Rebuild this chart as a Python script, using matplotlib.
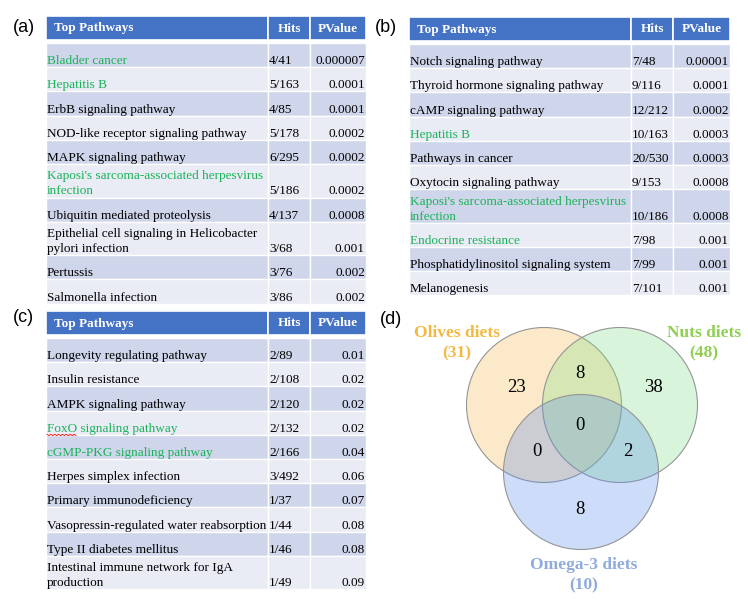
import numpy as np
import matplotlib
matplotlib.use('Agg')
import matplotlib.pyplot as plt
from matplotlib.patches import Rectangle, Circle

# ---- data ----
a_names = ['Bladder cancer', 'Hepatitis B', 'ErbB signaling pathway',
           'NOD-like receptor signaling pathway', 'MAPK signaling pathway',
           "Kaposi's sarcoma-associated herpesvirus\ninfection",
           'Ubiquitin mediated proteolysis',
           'Epithelial cell signaling in Helicobacter\npylori infection',
           'Pertussis', 'Salmonella infection']
a_hits = ['4/41', '5/163', '4/85', '5/178', '6/295', '5/186', '4/137', '3/68', '3/76', '3/86']
a_pval = ['0.000007', '0.0001', '0.0001', '0.0002', '0.0002', '0.0002', '0.0008', '0.001', '0.002', '0.002']
a_green = [0, 1, 5]

b_names = ['Notch signaling pathway', 'Thyroid hormone signaling pathway',
           'cAMP signaling pathway', 'Hepatitis B', 'Pathways in cancer',
           'Oxytocin signaling pathway',
           "Kaposi's sarcoma-associated herpesvirus\ninfection",
           'Endocrine resistance', 'Phosphatidylinositol signaling system',
           'Melanogenesis']
b_hits = ['7/48', '9/116', '12/212', '10/163', '20/530', '9/153', '10/186', '7/98', '7/99', '7/101']
b_pval = ['0.00001', '0.0001', '0.0002', '0.0003', '0.0003', '0.0008', '0.0008', '0.001', '0.001', '0.001']
b_green = [3, 6, 7]

c_names = ['Longevity regulating pathway', 'Insulin resistance',
           'AMPK signaling pathway', 'FoxO signaling pathway',
           'cGMP-PKG signaling pathway', 'Herpes simplex infection',
           'Primary immunodeficiency', 'Vasopressin-regulated water reabsorption',
           'Type II diabetes mellitus',
           'Intestinal immune network for IgA\nproduction']
c_hits = ['2/89', '2/108', '2/120', '2/132', '2/166', '3/492', '1/37', '1/44', '1/46', '1/49']
c_pval = ['0.01', '0.02', '0.02', '0.02', '0.04', '0.06', '0.07', '0.08', '0.08', '0.09']
c_green = [3, 4]

set_names = ['Olives diets', 'Nuts diets', 'Omega-3 diets']
set_totals = [31, 48, 10]
# olives only, olives&nuts, nuts only, all, olives&omega, nuts&omega, omega only
venn_counts = [23, 8, 38, 0, 0, 2, 8]

# ---- layout ----
header_c = '#4472c4'
row_c = ['#cfd5ea', '#e9ebf5']
green = '#1bb35a'
serif = 'Liberation Serif'
fs = 9.5

fig = plt.figure(figsize=(7.48, 6.06), dpi=100)
ax = fig.add_axes([0, 0, 1, 1])
ax.set_xlim(0, 748)
ax.set_ylim(606, 0)
ax.axis('off')


def draw_table(x0, x_hit, x_pv, x1, y0, names, hits, pvals, greens, squiggle=None):
    hh = 24
    for xa, xb in [(x0, x_hit), (x_hit, x_pv), (x_pv, x1)]:
        ax.add_patch(Rectangle((xa, y0), xb - xa, hh, fc=header_c, ec='white', lw=1.2))
    yc = y0 + hh / 2 + 0.5
    ax.text(x0 + 8, yc, 'Top Pathways', color='white', fontweight='bold', fontsize=fs,
            family=serif, va='center', ha='left')
    ax.text((x_hit + x_pv) / 2, yc, 'Hits', color='white', fontweight='bold', fontsize=fs,
            family=serif, va='center', ha='center')
    ax.text((x_pv + x1) / 2, yc, 'PValue', color='white', fontweight='bold', fontsize=fs,
            family=serif, va='center', ha='center')
    y = y0 + hh + 3
    for i, (n, h, p) in enumerate(zip(names, hits, pvals)):
        lines = n.split('\n')
        rh = 24.2 if len(lines) == 1 else 33.5
        for xa, xb in [(x0, x_hit), (x_hit, x_pv), (x_pv, x1)]:
            ax.add_patch(Rectangle((xa, y), xb - xa, rh, fc=row_c[i % 2], ec='white', lw=1.0))
        base = y + rh - 3
        col = green if i in greens else 'black'
        for k, ln in enumerate(reversed(lines)):
            ax.text(x0 + 1, base - k * 15, ln, color=col, fontsize=fs, family=serif,
                    va='baseline', ha='left')
        ax.text(x_hit + 1, base, h, fontsize=fs, family=serif, va='baseline', ha='left')
        ax.text(x1 - 1, base, p, fontsize=fs, family=serif, va='baseline', ha='right')
        if squiggle == i:
            xs = np.linspace(x0 + 1, x0 + 30, 16)
            ys = base + 2.5 + np.where(np.arange(16) % 2 == 0, 0, 1.3)
            ax.plot(xs, ys, color='red', lw=0.6)
        y += rh


draw_table(46, 268, 310, 366, 16, a_names, a_hits, a_pval, a_green)
draw_table(409, 631, 673, 730, 17, b_names, b_hits, b_pval, b_green)
draw_table(46, 268, 310, 366, 311, c_names, c_hits, c_pval, c_green, squiggle=3)

for lab, x, y in [('(a)', 13, 28), ('(b)', 375, 28), ('(c)', 13, 318), ('(d)', 380, 319)]:
    ax.text(x, y, lab, fontsize=13, family='Liberation Sans', va='center', ha='left')

# ---- venn ----
centers = [(544, 405), (620, 405), (581, 472)]
r = 77.5
fills = ['#f8b84e', '#7fe08a', '#5a8de8']
lab_cols = ['#f4b942', '#8fd050', '#8faadc']
for (cx, cy), fc in zip(centers, fills):
    ax.add_patch(Circle((cx, cy), r, fc=fc, alpha=0.3, ec='none'))
    ax.add_patch(Circle((cx, cy), r, fc='none', ec='#959595', lw=0.8))

label_pos = [(457, 333), (704, 333), (584, 565)]
for name, tot, (lx, ly), lc in zip(set_names, set_totals, label_pos, lab_cols):
    ax.text(lx, ly, name, color=lc, fontsize=12.5, fontweight='bold', family=serif,
            ha='center', va='center')
    ax.text(lx, ly + 20.5, '(%d)' % tot, color=lc, fontsize=12.5, fontweight='bold',
            family=serif, ha='center', va='center')

count_pos = [(517, 387), (580, 373), (653, 387), (580, 426), (537, 451), (628, 451), (580, 510)]
for v, (px, py) in zip(venn_counts, count_pos):
    ax.text(px, py, str(v), fontsize=13.5, family=serif, ha='center', va='center')

fig.savefig('out.png', dpi=100)
